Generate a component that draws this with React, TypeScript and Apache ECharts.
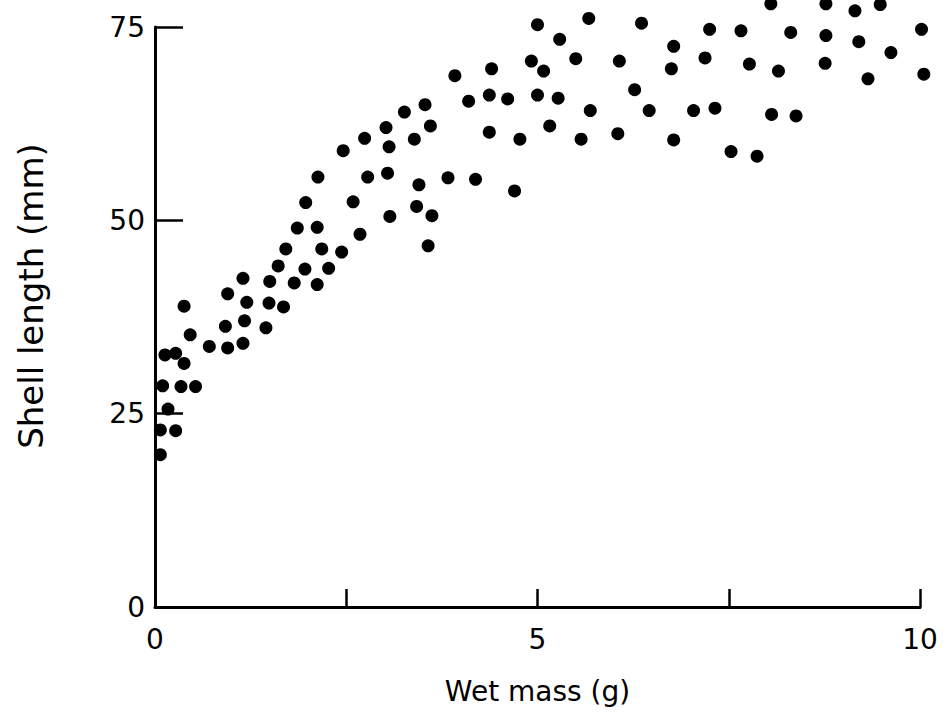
import React, { useEffect, useRef } from "react";
import * as echarts from "echarts";

// Wet mass (g) of each specimen
const wetMass: number[] = [
  1.97, 2.59, 3.07, 1.86, 2.12, 2.68, 1.71, 2.18, 2.44, 1.61,
  1.96, 2.27, 1.15, 1.5, 1.82, 2.12, 0.95, 0.38, 1.2, 1.49,
  1.68, 0.92, 1.17, 1.45, 0.46, 0.71, 0.95, 1.15, 0.13, 0.27,
  0.38, 0.1, 0.34, 0.53, 0.17, 0.07, 0.27, 0.07,
  4.1, 4.37, 4.61, 5.0, 5.27, 3.26, 3.53, 4.37, 4.77, 5.16,
  3.02, 3.6, 2.74, 3.39, 3.06, 2.46, 2.13, 2.78, 3.04, 3.45,
  3.83, 4.19, 4.7, 3.42, 3.62, 3.57, 3.92,
  5.0, 5.67, 6.36, 7.25, 5.29, 6.78, 4.92, 5.5, 6.07, 7.19,
  4.4, 5.08, 6.75, 6.27, 5.69, 6.46, 7.04, 7.32, 5.57, 6.05, 6.78,
  8.05, 8.77, 9.15, 9.48, 7.66, 8.31, 8.77, 9.2, 10.02, 7.77,
  8.15, 8.76, 9.62, 9.32, 10.05, 8.06, 8.38, 7.53, 7.87,
];

// Shell length (mm) of each specimen, same order
const shellLength: number[] = [
  52.3, 52.4, 50.5, 49.0, 49.1, 48.2, 46.3, 46.3, 45.9, 44.1,
  43.7, 43.8, 42.5, 42.1, 41.9, 41.7, 40.5, 38.9, 39.4, 39.3,
  38.8, 36.3, 37.0, 36.1, 35.2, 33.7, 33.5, 34.1, 32.6, 32.8,
  31.5, 28.6, 28.5, 28.5, 25.6, 22.9, 22.8, 19.7,
  65.4, 66.2, 65.7, 66.2, 65.8, 64.0, 64.95, 61.4, 60.5, 62.2,
  62.0, 62.2, 60.6, 60.5, 59.5, 59.0, 55.6, 55.6, 56.1, 54.6,
  55.5, 55.3, 53.8, 51.8, 50.6, 46.7, 68.7,
  75.3, 76.1, 75.5, 74.7, 73.4, 72.5, 70.6, 70.9, 70.6, 71.0,
  69.6, 69.3, 69.6, 66.9, 64.2, 64.2, 64.2, 64.5, 60.5, 61.2, 60.4,
  78.0, 78.0, 77.1, 77.9, 74.5, 74.3, 73.9, 73.1, 74.7, 70.2,
  69.3, 70.3, 71.7, 68.3, 68.9, 63.7, 63.5, 58.9, 58.3,
];

const xTicks: number[] = [0, 5, 10];
const yTicks: number[] = [0, 25, 50, 75];

const xTitle = "Wet mass (g)";
const yTitle = "Shell length (mm)";

const FONT = "DejaVu Sans";

export default function App() {
  const ref = useRef<HTMLDivElement>(null);

  useEffect(() => {
    if (!ref.current) return;
    const chart = echarts.init(ref.current, undefined, { renderer: "svg" });
    const points = wetMass.map((x, i) => [x, shellLength[i]]);
    chart.setOption({
      animation: false,
      backgroundColor: "#ffffff",
      grid: { left: 155, right: 26, top: 27, bottom: 121, containLabel: false },
      xAxis: {
        type: "value",
        min: 0,
        max: 10,
        interval: 2.5,
        name: xTitle,
        nameLocation: "middle",
        nameGap: 70,
        nameTextStyle: { fontFamily: FONT, fontSize: 28, color: "#000" },
        axisLine: { show: true, onZero: false, lineStyle: { color: "#000", width: 3 } },
        axisTick: { show: true, inside: true, length: 18, lineStyle: { color: "#000", width: 2.5 } },
        axisLabel: {
          fontFamily: FONT,
          fontSize: 28,
          color: "#000",
          margin: 18,
          formatter: (v: number) => (xTicks.includes(v) ? String(v) : ""),
        },
        splitLine: { show: false },
      },
      yAxis: {
        type: "value",
        min: 0,
        max: 75,
        interval: 25,
        axisLine: { show: true, onZero: false, lineStyle: { color: "#000", width: 3 } },
        axisTick: { show: true, inside: true, length: 28, lineStyle: { color: "#000", width: 2.5 } },
        axisLabel: {
          fontFamily: FONT,
          fontSize: 28,
          color: "#000",
          margin: 10,
          formatter: (v: number) => (yTicks.includes(v) ? String(v) : ""),
        },
        splitLine: { show: false },
      },
      graphic: [
        {
          type: "text",
          x: 31,
          y: 296,
          rotation: Math.PI / 2,
          style: {
            text: yTitle,
            fontFamily: FONT,
            fontSize: 34,
            fill: "#000",
            align: "center",
            verticalAlign: "middle",
          },
        },
      ],
      series: [
        {
          type: "scatter",
          data: points,
          symbol: "circle",
          symbolSize: 13,
          clip: false,
          itemStyle: { color: "#000", opacity: 1 },
        },
      ],
    });
    return () => chart.dispose();
  }, []);

  return (
    <div
      ref={ref}
      style={{ position: "fixed", left: 0, top: 0, width: 946, height: 728, background: "#fff" }}
    />
  );
}
